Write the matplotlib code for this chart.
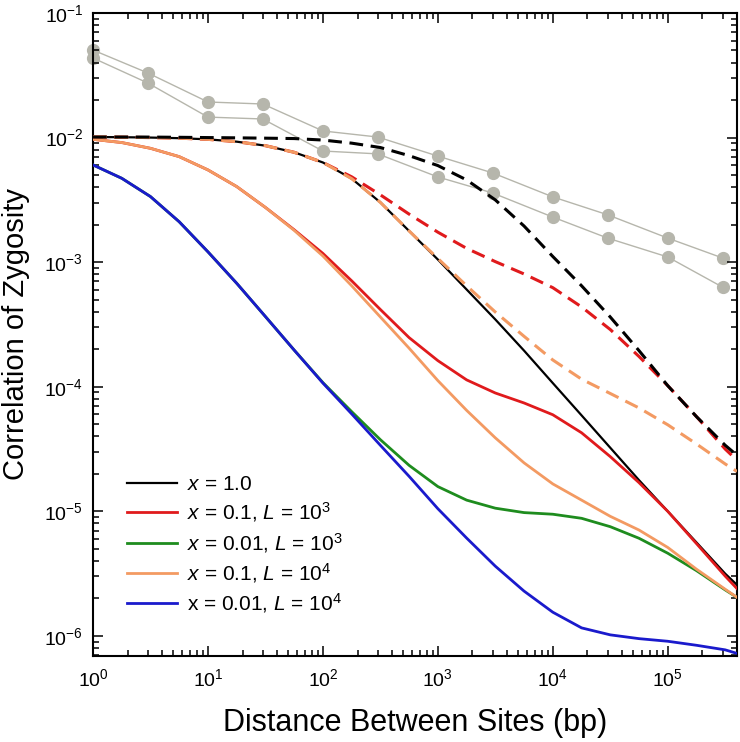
import numpy as np
import matplotlib
matplotlib.use("Agg")
import matplotlib.pyplot as plt
from matplotlib.ticker import LogLocator, NullFormatter

plt.rcParams['font.family'] = ['Liberation Sans', 'DejaVu Sans']
plt.rcParams['mathtext.fontset'] = 'custom'
plt.rcParams['mathtext.rm'] = 'Liberation Sans'
plt.rcParams['mathtext.it'] = 'Liberation Sans:italic'
plt.rcParams['axes.unicode_minus'] = False

# distance between sites (bp), read at quarter decades
dist = [1, 1.78, 3.16, 5.62, 10, 17.8, 31.6, 56.2, 100, 178, 316, 562,
        1e3, 1.78e3, 3.16e3, 5.62e3, 1e4, 1.78e4, 3.16e4, 5.62e4,
        1e5, 1.78e5, 3.16e5, 4e5]

# solid curves
x1 = [1.01e-2, 1.007e-2, 1.0e-2, 9.89e-3, 9.68e-3, 9.27e-3, 8.61e-3, 7.62e-3,
      6.31e-3, 4.68e-3, 3.02e-3, 1.78e-3, 1.05e-3, 6.03e-4, 3.47e-4, 1.95e-4,
      1.07e-4, 5.89e-5, 3.24e-5, 1.78e-5, 1.0e-5, 5.62e-6, 3.16e-6, 2.57e-6]
x01_L3 = [9.68e-3, 9.12e-3, 8.20e-3, 7.03e-3, 5.50e-3, 4.04e-3, 2.75e-3, 1.82e-3,
          1.175e-3, 7.08e-4, 4.17e-4, 2.48e-4, 1.62e-4, 1.135e-4, 8.91e-5, 7.41e-5,
          5.96e-5, 4.27e-5, 2.75e-5, 1.70e-5, 1.0e-5, 5.50e-6, 3.02e-6, 2.40e-6]
x001_L3 = [6.03e-3, 4.71e-3, 3.36e-3, 2.11e-3, 1.21e-3, 6.76e-4, 3.66e-4, 1.97e-4,
           1.08e-4, 6.31e-5, 3.76e-5, 2.34e-5, 1.58e-5, 1.23e-5, 1.06e-5, 9.77e-6,
           9.48e-6, 8.79e-6, 7.53e-6, 6.08e-6, 4.61e-6, 3.34e-6, 2.34e-6, 2.04e-6]
x01_L4 = [9.68e-3, 9.12e-3, 8.20e-3, 7.03e-3, 5.50e-3, 4.04e-3, 2.75e-3, 1.80e-3,
          1.12e-3, 6.46e-4, 3.63e-4, 2.04e-4, 1.12e-4, 6.46e-5, 3.89e-5, 2.45e-5,
          1.66e-5, 1.23e-5, 9.12e-6, 7.08e-6, 5.13e-6, 3.43e-6, 2.37e-6, 2.04e-6]
x001_L4 = [6.03e-3, 4.71e-3, 3.36e-3, 2.11e-3, 1.21e-3, 6.76e-4, 3.66e-4, 1.97e-4,
           1.07e-4, 6.05e-5, 3.39e-5, 1.91e-5, 1.05e-5, 6.10e-6, 3.63e-6, 2.29e-6,
           1.55e-6, 1.16e-6, 1.02e-6, 9.51e-7, 9.06e-7, 8.41e-7, 7.73e-7, 7.24e-7]

# dashed curves
dash_black = [1.01e-2, 1.01e-2, 1.009e-2, 1.005e-2, 1.0e-2, 9.95e-3, 9.89e-3, 9.82e-3,
              9.55e-3, 9.02e-3, 8.32e-3, 7.16e-3, 5.96e-3, 4.57e-3, 3.16e-3, 1.95e-3,
              1.11e-3, 6.46e-4, 3.63e-4, 1.95e-4, 1.02e-4, 5.75e-5, 3.39e-5, 2.82e-5]
dash_red = [1.01e-2, 1.007e-2, 1.0e-2, 9.89e-3, 9.68e-3, 9.27e-3, 8.61e-3, 7.62e-3,
            6.31e-3, 4.84e-3, 3.47e-3, 2.43e-3, 1.74e-3, 1.29e-3, 1.01e-3, 8.04e-4,
            6.24e-4, 4.37e-4, 2.88e-4, 1.75e-4, 1.02e-4, 5.75e-5, 3.16e-5, 2.57e-5]
dash_orange = [1.01e-2, 1.007e-2, 1.0e-2, 9.89e-3, 9.68e-3, 9.27e-3, 8.61e-3, 7.62e-3,
               6.31e-3, 4.68e-3, 3.02e-3, 1.78e-3, 1.07e-3, 6.46e-4, 3.98e-4, 2.54e-4,
               1.64e-4, 1.15e-4, 8.83e-5, 6.76e-5, 4.95e-5, 3.47e-5, 2.40e-5, 2.09e-5]

# observed data (grey points)
obs_x = [1, 3, 10, 30, 100, 300, 1000, 3000, 1e4, 3e4, 1e5, 3e5]
obs_upper = [0.0504, 0.033, 0.0193, 0.0186, 0.0113, 0.0101, 0.0071, 0.0052,
             0.00334, 0.0024, 0.00156, 0.00108]
obs_lower = [0.0435, 0.0274, 0.0146, 0.0141, 0.0078, 0.0074, 0.00483, 0.00359,
             0.0023, 0.00156, 0.0011, 0.00063]

labels = ['$x$ = 1.0', '$x$ = 0.1, $L$ = 10$^{3}$', '$x$ = 0.01, $L$ = 10$^{3}$',
          '$x$ = 0.1, $L$ = 10$^{4}$', 'x = 0.01, $L$ = 10$^{4}$']

c_red = '#e01a1c'
c_green = '#1e8c1e'
c_orange = '#f39a62'
c_blue = '#1a1acc'
c_grey = '#b6b6ac'

fig = plt.figure(figsize=(7.4, 7.42), dpi=100)
ax = fig.add_axes([0.1257, 0.1159, 0.8702, 0.8666])

ax.plot(obs_x, obs_upper, '-o', color=c_grey, lw=1.0, ms=8.5, zorder=1, clip_on=False)
ax.plot(obs_x, obs_lower, '-o', color=c_grey, lw=1.0, ms=8.5, zorder=1, clip_on=False)

l1, = ax.plot(dist, x1, color='black', lw=1.6, zorder=2)
l2, = ax.plot(dist, x01_L3, color=c_red, lw=2.0, zorder=3)
l3, = ax.plot(dist, x001_L3, color=c_green, lw=2.0, zorder=3)
l4, = ax.plot(dist, x01_L4, color=c_orange, lw=2.0, zorder=4)
l5, = ax.plot(dist, x001_L4, color=c_blue, lw=2.0, zorder=4)

ax.plot(dist, dash_red, color=c_red, lw=2.2, dashes=(4.5, 2.5), zorder=5)
ax.plot(dist, dash_orange, color=c_orange, lw=2.2, dashes=(4.5, 2.5), zorder=6)
ax.plot(dist, dash_black, color='black', lw=2.2, dashes=(4.5, 2.5), zorder=7)

ax.set_xscale('log')
ax.set_yscale('log')
ax.set_xlim(1, 4e5)
ax.set_ylim(6.9e-7, 1e-1)

ax.xaxis.set_major_locator(LogLocator(base=10, numticks=20))
ax.yaxis.set_major_locator(LogLocator(base=10, numticks=20))
ax.xaxis.set_minor_locator(LogLocator(base=10, subs=np.arange(2, 10), numticks=20))
ax.yaxis.set_minor_locator(LogLocator(base=10, subs=np.arange(2, 10), numticks=20))
ax.xaxis.set_minor_formatter(NullFormatter())
ax.yaxis.set_minor_formatter(NullFormatter())

ax.tick_params(which='both', direction='in', top=True, right=True, width=1.1)
ax.tick_params(which='major', length=7, labelsize=14)
ax.tick_params(axis='x', which='major', pad=9)
ax.tick_params(axis='y', which='major', pad=7)
ax.tick_params(which='minor', length=4.5)
for s in ax.spines.values():
    s.set_linewidth(1.5)

ax.set_xlabel('Distance Between Sites (bp)', fontsize=22, labelpad=13)
ax.set_ylabel('Correlation of Zygosity', fontsize=21, labelpad=10)

ax.legend([l1, l2, l3, l4, l5], labels, loc='lower left', bbox_to_anchor=(0.040, 0.051),
          borderaxespad=0, frameon=False, fontsize=15, handlelength=2.4,
          handletextpad=0.48, labelspacing=0.3)

fig.savefig('out.png', dpi=100)
